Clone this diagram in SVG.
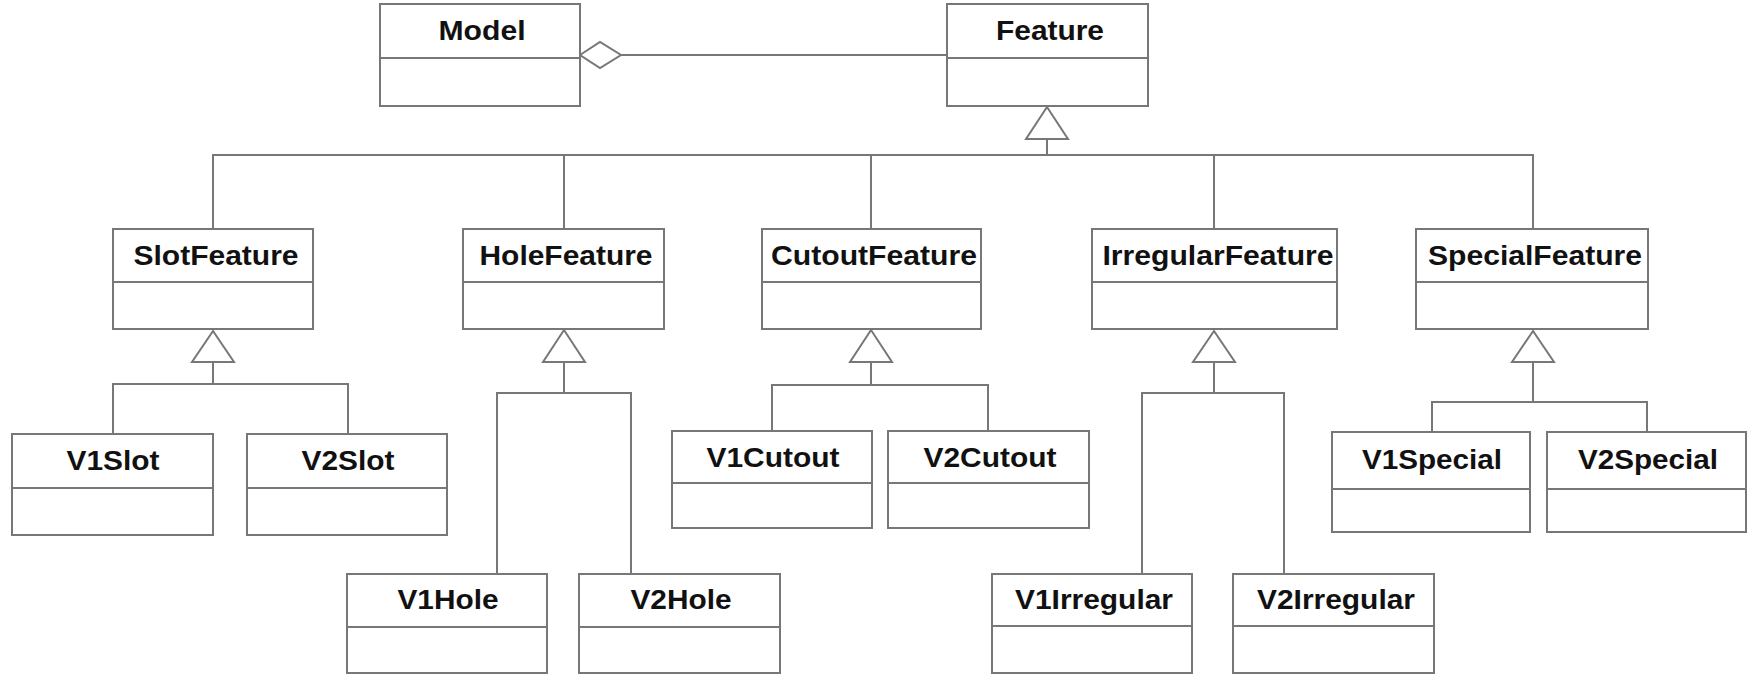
<svg xmlns="http://www.w3.org/2000/svg" width="1747" height="674" viewBox="0 0 1747 674">
<style>
.box{fill:#fff;stroke:#777;stroke-width:2}
.div{stroke:#777;stroke-width:2}
.t{font-family:"Liberation Sans",Arial,sans-serif;font-weight:bold;font-size:27px;fill:#111;text-anchor:middle}
.c{fill:none;stroke:#777;stroke-width:2}
.tri{fill:#fff;stroke:#777;stroke-width:2;stroke-linejoin:miter}
</style>
<rect width="1747" height="674" fill="#fff"/>
<g id="connectors">
<polyline class="c" points="621,55 947,55"/>
<polygon class="tri" points="580,55 600,42 621,55 600,68"/>
<line class="c" x1="1047" y1="139" x2="1047" y2="155"/>
<polyline class="c" points="213,229 213,155 1533,155 1533,229"/>
<line class="c" x1="564" y1="155" x2="564" y2="229"/>
<line class="c" x1="871" y1="155" x2="871" y2="229"/>
<line class="c" x1="1214" y1="155" x2="1214" y2="229"/>
<polygon class="tri" points="1047,107 1026,139 1068,139"/>
<line class="c" x1="213" y1="362" x2="213" y2="384"/>
<polyline class="c" points="113,434 113,384 348,384 348,434"/>
<polygon class="tri" points="213,331 192,362 234,362"/>
<line class="c" x1="564" y1="362" x2="564" y2="393"/>
<polyline class="c" points="497,574 497,393 631,393 631,574"/>
<polygon class="tri" points="564,330 543,362 585,362"/>
<line class="c" x1="871" y1="362" x2="871" y2="385"/>
<polyline class="c" points="772,431 772,385 988,385 988,431"/>
<polygon class="tri" points="871,330 850,362 892,362"/>
<line class="c" x1="1214" y1="362" x2="1214" y2="393"/>
<polyline class="c" points="1142,574 1142,393 1284,393 1284,574"/>
<polygon class="tri" points="1214,331 1193,362 1235,362"/>
<line class="c" x1="1533" y1="362" x2="1533" y2="402"/>
<polyline class="c" points="1432,432 1432,402 1647,402 1647,432"/>
<polygon class="tri" points="1533,331 1512,362 1554,362"/>
</g>
<g id="Model"><rect class="box" x="380" y="4" width="200" height="102"/><line class="div" x1="380" y1="58" x2="580" y2="58"/><text class="t" x="482" y="40" textLength="87" lengthAdjust="spacingAndGlyphs">Model</text></g>
<g id="Feature"><rect class="box" x="947" y="4" width="201" height="102"/><line class="div" x1="947" y1="58" x2="1148" y2="58"/><text class="t" x="1050" y="40" textLength="108" lengthAdjust="spacingAndGlyphs">Feature</text></g>
<g id="SlotFeature"><rect class="box" x="113" y="229" width="200" height="100"/><line class="div" x1="113" y1="282" x2="313" y2="282"/><text class="t" x="216" y="265" textLength="165" lengthAdjust="spacingAndGlyphs">SlotFeature</text></g>
<g id="HoleFeature"><rect class="box" x="463" y="229" width="201" height="100"/><line class="div" x1="463" y1="282" x2="664" y2="282"/><text class="t" x="566" y="265" textLength="173" lengthAdjust="spacingAndGlyphs">HoleFeature</text></g>
<g id="CutoutFeature"><rect class="box" x="762" y="229" width="219" height="100"/><line class="div" x1="762" y1="282" x2="981" y2="282"/><text class="t" x="874" y="265" textLength="206" lengthAdjust="spacingAndGlyphs">CutoutFeature</text></g>
<g id="IrregularFeature"><rect class="box" x="1092" y="229" width="245" height="100"/><line class="div" x1="1092" y1="282" x2="1337" y2="282"/><text class="t" x="1218" y="265" textLength="231" lengthAdjust="spacingAndGlyphs">IrregularFeature</text></g>
<g id="SpecialFeature"><rect class="box" x="1416" y="229" width="232" height="100"/><line class="div" x1="1416" y1="282" x2="1648" y2="282"/><text class="t" x="1535" y="265" textLength="214" lengthAdjust="spacingAndGlyphs">SpecialFeature</text></g>
<g id="V1Slot"><rect class="box" x="12" y="434" width="201" height="101"/><line class="div" x1="12" y1="488" x2="213" y2="488"/><text class="t" x="113" y="470" textLength="93" lengthAdjust="spacingAndGlyphs">V1Slot</text></g>
<g id="V2Slot"><rect class="box" x="247" y="434" width="200" height="101"/><line class="div" x1="247" y1="488" x2="447" y2="488"/><text class="t" x="348" y="470" textLength="93" lengthAdjust="spacingAndGlyphs">V2Slot</text></g>
<g id="V1Cutout"><rect class="box" x="672" y="431" width="200" height="97"/><line class="div" x1="672" y1="483" x2="872" y2="483"/><text class="t" x="773" y="467" textLength="133" lengthAdjust="spacingAndGlyphs">V1Cutout</text></g>
<g id="V2Cutout"><rect class="box" x="888" y="431" width="201" height="97"/><line class="div" x1="888" y1="483" x2="1089" y2="483"/><text class="t" x="990" y="467" textLength="133" lengthAdjust="spacingAndGlyphs">V2Cutout</text></g>
<g id="V1Special"><rect class="box" x="1332" y="432" width="198" height="100"/><line class="div" x1="1332" y1="489" x2="1530" y2="489"/><text class="t" x="1432" y="469" textLength="140" lengthAdjust="spacingAndGlyphs">V1Special</text></g>
<g id="V2Special"><rect class="box" x="1547" y="432" width="199" height="100"/><line class="div" x1="1547" y1="489" x2="1746" y2="489"/><text class="t" x="1648" y="469" textLength="140" lengthAdjust="spacingAndGlyphs">V2Special</text></g>
<g id="V1Hole"><rect class="box" x="347" y="574" width="200" height="99"/><line class="div" x1="347" y1="627" x2="547" y2="627"/><text class="t" x="448" y="609" textLength="101" lengthAdjust="spacingAndGlyphs">V1Hole</text></g>
<g id="V2Hole"><rect class="box" x="579" y="574" width="201" height="99"/><line class="div" x1="579" y1="627" x2="780" y2="627"/><text class="t" x="681" y="609" textLength="101" lengthAdjust="spacingAndGlyphs">V2Hole</text></g>
<g id="V1Irregular"><rect class="box" x="992" y="574" width="200" height="99"/><line class="div" x1="992" y1="626" x2="1192" y2="626"/><text class="t" x="1094" y="609" textLength="158" lengthAdjust="spacingAndGlyphs">V1Irregular</text></g>
<g id="V2Irregular"><rect class="box" x="1233" y="574" width="201" height="99"/><line class="div" x1="1233" y1="626" x2="1434" y2="626"/><text class="t" x="1336" y="609" textLength="158" lengthAdjust="spacingAndGlyphs">V2Irregular</text></g>
</svg>
